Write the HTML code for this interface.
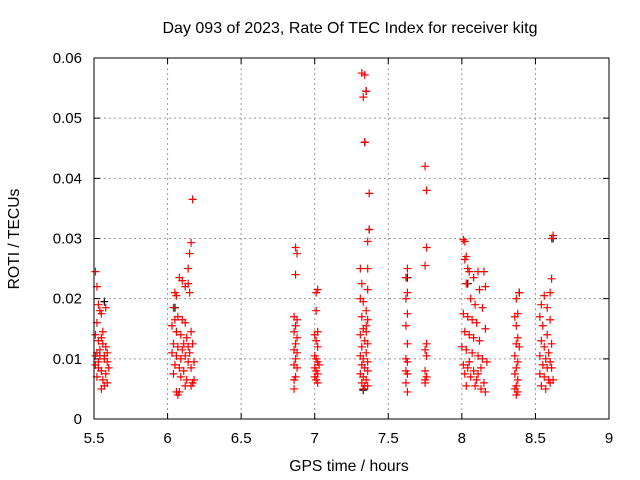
<!DOCTYPE html>
<html><head><meta charset="utf-8"><style>
body{margin:0;background:#fff}
svg{display:block;font-family:"Liberation Sans",sans-serif}
</style></head><body>
<svg id="chart" width="640" height="480">
<text x="350" y="33" text-anchor="middle" font-size="16">Day 093 of 2023, Rate Of TEC Index for receiver kitg</text>
<text x="349" y="471" text-anchor="middle" font-size="15.7">GPS time / hours</text>
<text transform="translate(19,239) rotate(-90)" text-anchor="middle" font-size="15.7">ROTI / TECUs</text>
<g id="grid"></g><g id="ticks"></g><g id="marks"></g>
<rect x="94" y="58" width="515" height="361" fill="none" stroke="#000" stroke-width="1"/>
</svg>
<script>
const xTicks=[5.5,6,6.5,7,7.5,8,8.5,9];
const xTickLabels=["5.5","6","6.5","7","7.5","8","8.5","9"];
const yTicks=[0,0.01,0.02,0.03,0.04,0.05,0.06];
const yTickLabels=["0","0.01","0.02","0.03","0.04","0.05","0.06"];
const redX=[5.51,5.52,5.53,5.54,5.52,5.55,5.51,5.53,5.56,5.58,5.52,5.54,5.57,5.59,5.51,5.53,5.55,5.58,5.52,5.56,5.59,5.57,5.55,5.54,5.56,5.59,5.58,5.60,5.53,5.57,5.55,5.51,
6.17,6.16,6.15,6.14,6.05,6.06,6.08,6.10,6.12,6.14,6.15,6.04,6.07,6.10,6.12,6.03,6.06,6.09,6.13,6.16,6.04,6.07,6.10,6.14,6.17,6.03,6.06,6.09,6.12,6.15,6.18,6.05,6.08,6.11,6.16,6.04,6.09,6.13,6.17,6.12,6.06,6.07,6.08,6.16,6.18,6.05,6.11,6.14,
6.87,6.88,6.87,6.86,6.88,6.87,6.86,6.88,6.87,6.86,6.88,6.87,6.86,6.88,6.87,6.86,6.86,
7.02,7.01,7.01,7.02,7.00,7.01,7.02,7.00,7.01,7.02,7.03,7.00,7.01,7.02,7.00,7.01,7.02,
7.32,7.34,7.35,7.33,7.34,7.37,7.37,7.36,7.31,7.36,7.32,7.36,7.31,7.33,7.35,7.32,7.36,7.33,7.35,7.31,7.34,7.36,7.32,7.35,7.31,7.33,7.36,7.32,7.34,7.36,7.31,7.33,7.35,7.32,7.34,7.36,7.33,7.35,
7.63,7.62,7.63,7.62,7.63,7.62,7.63,7.62,7.63,7.62,7.63,7.62,7.63,
7.75,7.76,7.76,7.75,7.76,7.75,7.76,7.75,7.76,7.75,7.75,
8.01,8.02,8.03,8.02,8.04,8.05,8.08,8.11,8.15,8.03,8.12,8.16,8.06,8.09,8.14,8.01,8.04,8.07,8.10,8.16,8.02,8.05,8.08,8.12,8.00,8.03,8.07,8.11,8.14,8.17,8.01,8.04,8.08,8.13,8.02,8.06,8.10,8.15,8.03,8.09,8.13,8.16,8.05,8.11,
8.39,8.37,8.38,8.36,8.37,8.38,8.37,8.39,8.36,8.38,8.37,8.36,8.38,8.37,8.36,8.38,8.37,
8.62,8.61,8.61,8.60,8.56,8.54,8.58,8.53,8.60,8.55,8.58,8.54,8.61,8.56,8.59,8.53,8.57,8.60,8.55,8.58,8.61,8.53,8.56,8.59,8.62,8.54,8.57,8.60];
const redY=[.0245,.022,.019,.018,.016,.0175,.014,.013,.0125,.012,.011,.0105,.010,.0095,.009,.0085,.008,.0075,.007,.0065,.006,.0055,.005,.0115,.0145,.011,.0185,.0085,.0095,.0105,.0135,.0105,
.0365,.0293,.0275,.025,.021,.0205,.0235,.023,.022,.0225,.021,.0185,.017,.0165,.016,.0155,.0145,.014,.0135,.0145,.0125,.012,.0115,.012,.0125,.011,.0105,.010,.0105,.011,.0095,.009,.0085,.008,.0085,.0075,.007,.0065,.006,.0055,.0045,.004,.0045,.0055,.0065,.0165,.0125,.0095,
.0285,.0275,.024,.017,.0165,.0155,.0145,.0135,.0125,.0115,.011,.010,.009,.0085,.007,.0065,.005,
.0215,.021,.018,.0145,.014,.013,.012,.0105,.010,.0095,.009,.0085,.008,.0075,.007,.0065,.006,
.0575,.0572,.0545,.0535,.046,.0375,.0315,.0295,.025,.025,.0225,.0215,.020,.0195,.018,.017,.0165,.015,.0145,.014,.013,.0125,.012,.011,.0105,.010,.0095,.009,.0085,.008,.0075,.007,.0065,.006,.0055,.0055,.005,.0155,
.025,.0235,.021,.020,.0175,.0155,.0125,.010,.0095,.008,.0075,.006,.0045,
.042,.038,.0285,.0255,.0125,.0115,.0105,.008,.007,.006,.0065,
.0298,.0295,.027,.0265,.025,.0245,.0235,.0245,.0245,.0225,.0215,.022,.020,.019,.0185,.0175,.017,.0165,.016,.015,.0145,.014,.0135,.013,.012,.0115,.011,.0105,.010,.0095,.009,.0085,.008,.0085,.0075,.007,.0065,.006,.0055,.0055,.005,.0045,.0095,.0075,
.021,.020,.0175,.017,.0155,.0135,.0125,.012,.0105,.0095,.0085,.0075,.0065,.0055,.005,.0045,.004,
.0305,.030,.0233,.021,.0205,.019,.0185,.017,.0165,.0155,.014,.013,.0125,.012,.011,.0105,.010,.0095,.009,.0085,.0085,.0075,.007,.0065,.0065,.0055,.005,.006];
const blackX=[5.57,6.05,7.35,7.34,7.37,7.63,8.62,8.39,7.33,8.04];
const blackY=[.0195,.0185,.0545,.046,.0315,.0235,.030,.021,.0048,.0225];
const X0=94,X1=609,Y0=419,Y1=58;
function sx(v){return X0+(v-5.5)/(9-5.5)*(X1-X0);}
function sy(v){return Y0-v/0.06*(Y0-Y1);}
const NS="http://www.w3.org/2000/svg";
const grid=document.getElementById('grid'),ticks=document.getElementById('ticks'),marks=document.getElementById('marks');
function mk(tag,attrs,parent){const e=document.createElementNS(NS,tag);for(const k in attrs)e.setAttribute(k,attrs[k]);parent.appendChild(e);return e;}
xTicks.forEach((t,i)=>{const x=sx(t);
 if(i>0&&i<xTicks.length-1){const g=mk('line',{x1:x,x2:x,y1:Y1,y2:Y0,stroke:'#999','stroke-dasharray':'2,3'},grid);
 
 }
 const tk=mk('path',{d:`M${x},${Y0}v-6M${x},${Y1}v6`,stroke:'#000'},ticks);
 
 
 const l=mk('text',{x:x,y:443,'text-anchor':'middle','font-size':'15'},ticks);l.textContent=xTickLabels[i];
 
 });
yTicks.forEach((t,i)=>{const y=sy(t);
 if(i>0&&i<yTicks.length-1){const g=mk('line',{x1:X0,x2:X1,y1:y,y2:y,stroke:'#999','stroke-dasharray':'2,3'},grid);
 
 }
 const tk=mk('path',{d:`M${X0},${y}h6M${X1},${y}h-6`,stroke:'#000'},ticks);
 
 
 const l=mk('text',{x:82,y:y+5,'text-anchor':'end','font-size':'15'},ticks);l.textContent=yTickLabels[i];
 
 });
function plus(xs,ys,col,name){xs.forEach((v,i)=>{const x=sx(v),y=sy(ys[i]);
 const p=mk('path',{d:`M${x-4},${y}h8M${x},${y-4}v8`,stroke:col,'stroke-width':'1.2'},marks);
 
 });}
plus(blackX,blackY,'#000','roti-point-black');
plus(redX,redY,'#f00','roti-point');
</script>
</body></html>
